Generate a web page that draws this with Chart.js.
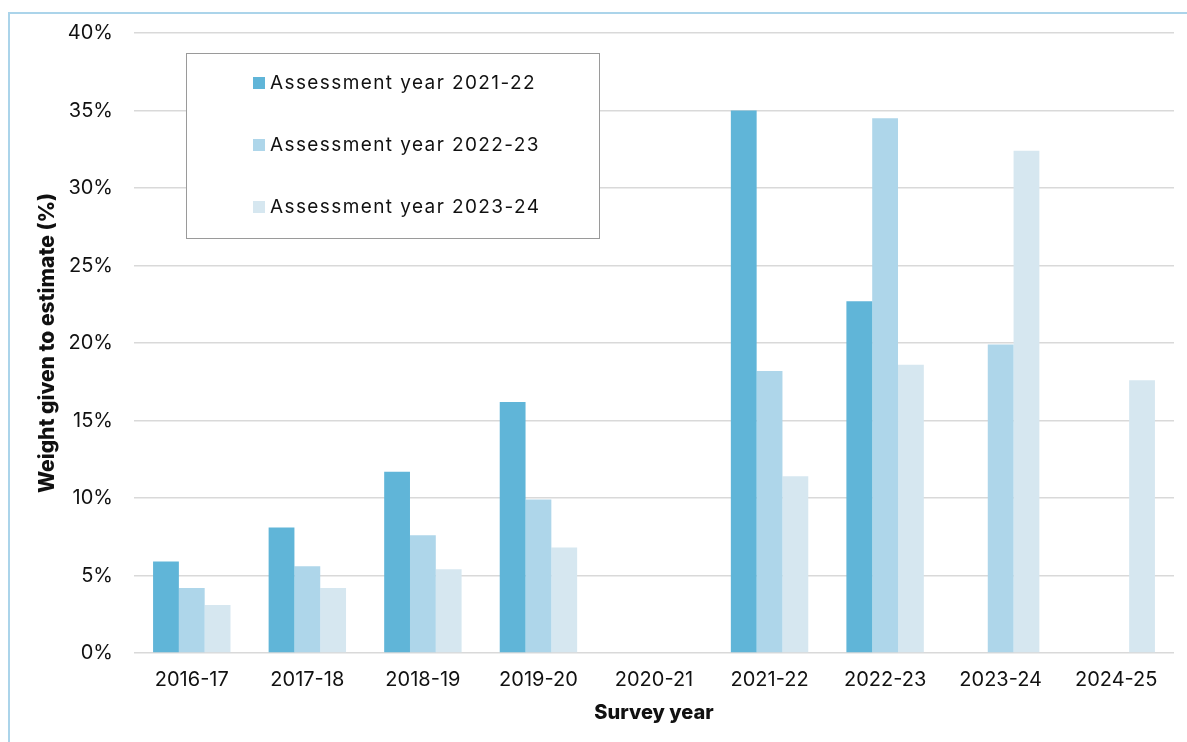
<!DOCTYPE html>
<html>
<head>
<meta charset="utf-8">
<script src="https://cdn.jsdelivr.net/npm/chart.js@4/dist/chart.umd.min.js"></script>
<style>
  html, body { margin: 0; padding: 0; background: #fff; overflow: hidden; }
  #wrap { position: relative; width: 1187px; height: 742px; }
  #frame { position: absolute; left: 8px; top: 12px; width: 1200px; height: 760px;
           border: 2px solid #abd4ea; box-sizing: border-box; pointer-events: none; }
</style>
</head>
<body>
<div id="wrap">
  <canvas id="myChart" width="1187" height="742"></canvas>
  <div id="frame"></div>
</div>
<script>
const surveyYears = ["2016-17", "2017-18", "2018-19", "2019-20", "2020-21", "2021-22", "2022-23", "2023-24", "2024-25"];
const seriesNames = ["Assessment year 2021-22", "Assessment year 2022-23", "Assessment year 2023-24"];
const ay2122 = [5.9, 8.1, 11.7, 16.2, null, 35.0, 22.7, null, null];
const ay2223 = [4.2, 5.6, 7.6, 9.9, null, 18.2, 34.5, 19.9, null];
const ay2324 = [3.1, 4.2, 5.4, 6.8, null, 11.4, 18.6, 32.4, 17.6];
const colors = ["#60b5d8", "#aed6ea", "#d6e7f0"];

const font = "Inter, 'Noto Sans', sans-serif";

// legend box drawn inside the plot, like the original
const boxLegend = {
  id: "boxLegend",
  afterDraw(chart) {
    const ctx = chart.ctx;
    ctx.save();
    ctx.strokeStyle = "#9a9a9a";
    ctx.lineWidth = 1;
    ctx.fillStyle = "#fff";
    ctx.fillRect(186, 53, 413, 185);
    ctx.strokeRect(186.5, 53.5, 413, 185);
    ctx.font = "19px " + font;
    ctx.textBaseline = "middle";
    ctx.letterSpacing = "1.4px";
    chart.data.datasets.forEach((ds, i) => {
      const y = 83 + i * 62;
      ctx.fillStyle = ds.backgroundColor;
      ctx.fillRect(253, y - 6, 12, 12);
      ctx.fillStyle = "#111";
      ctx.fillText(ds.label, 270, y);
    });
    ctx.restore();
  }
};

const ctx = document.getElementById("myChart").getContext("2d");
const myChart = new Chart(ctx, {
  type: "bar",
  data: {
    labels: surveyYears,
    datasets: [
      { label: seriesNames[0], data: ay2122, backgroundColor: colors[0] },
      { label: seriesNames[1], data: ay2223, backgroundColor: colors[1] },
      { label: seriesNames[2], data: ay2324, backgroundColor: colors[2] },
    ],
  },
  options: {
    responsive: false,
    animation: false,
    categoryPercentage: 0.67,
    barPercentage: 1.0,
    layout: { padding: { top: 30, right: 13, left: 35, bottom: 17 } },
    plugins: {
      legend: { display: false },
      tooltip: { enabled: false },
    },
    scales: {
      x: {
        grid: { display: false },
        border: { display: false },
        ticks: { color: "#111", font: { family: font, size: 20 }, padding: 7, maxRotation: 0 },
        title: { display: true, text: "Survey year", color: "#111",
                 font: { family: font, size: 20, weight: 800 }, padding: { top: 2, bottom: 0 } },
        afterFit: (scale) => { scale.height = 72; },
      },
      y: {
        min: 0,
        max: 40,
        grid: { color: "#d9d9d9", lineWidth: 1.5, drawTicks: false },
        border: { display: false },
        ticks: { stepSize: 5, color: "#111", font: { family: font, size: 20 }, padding: 21,
                 callback: (v) => v + "%" },
        title: { display: true, text: "Weight given to estimate (%)", color: "#111",
                 font: { family: font, size: 21, weight: 800 }, padding: { top: 0, bottom: 6 } },
        afterFit: (scale) => { scale.width = 99; },
      },
    },
  },
  plugins: [boxLegend],
});
</script>
</body>
</html>
